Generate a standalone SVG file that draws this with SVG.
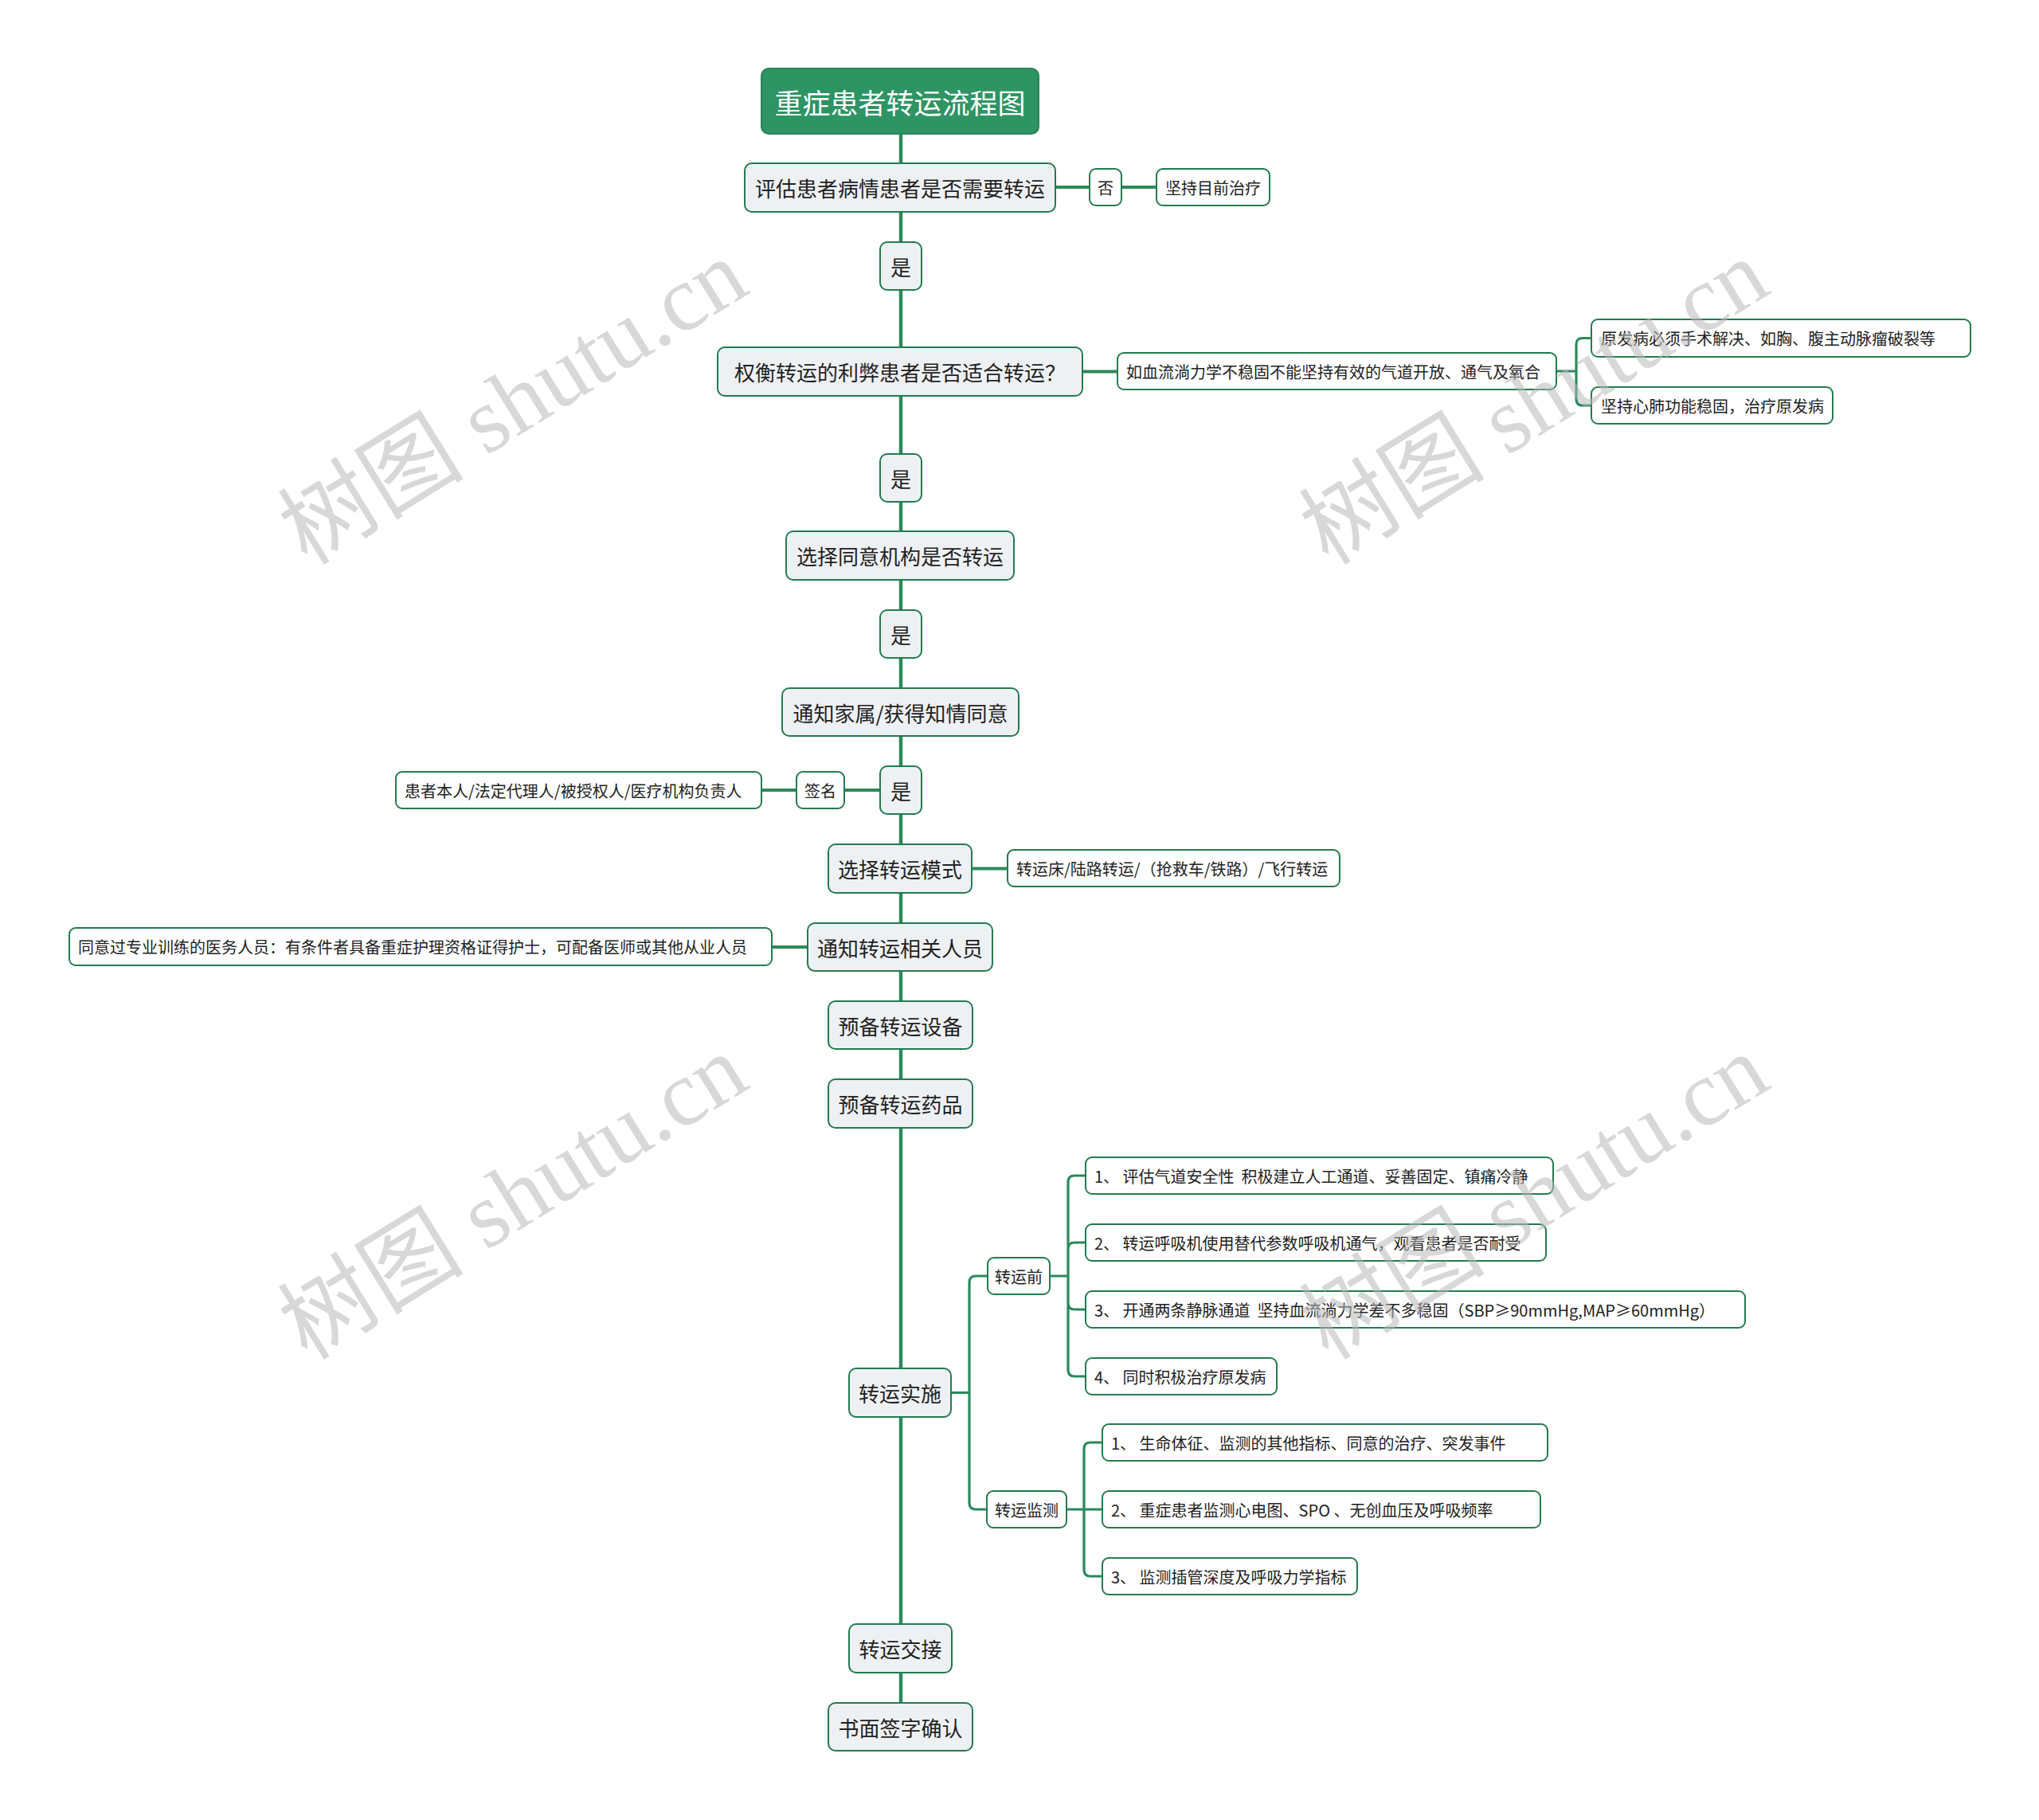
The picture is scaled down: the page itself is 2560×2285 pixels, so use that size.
<svg xmlns="http://www.w3.org/2000/svg" width="2560" height="2285" viewBox="0 0 2560 2285">
<style>
.bg{fill:#ffffff}
.root rect{fill:#2e9463;stroke:#2a8558;stroke-width:2}
.root text{fill:#ffffff;font-size:35px}
.main rect{fill:#eef1f4;stroke:#257a4f;stroke-width:2}
.main text{fill:#222222;font-size:26px}
.sub rect{fill:#ffffff;stroke:#257a4f;stroke-width:2}
.sub text{fill:#222222;font-size:20px}
text{font-family:"Noto Sans CJK SC","Noto Sans",sans-serif;text-anchor:middle;dominant-baseline:central;white-space:pre}
.sub text.l{text-anchor:start}
.conn path{fill:none;stroke:#2b8a5b;stroke-linecap:round;stroke-linejoin:round}
.spine{stroke-width:4.5}
.h{stroke-width:4}
.br{stroke-width:3.2}
.wm{font-family:"Liberation Serif","Noto Sans CJK SC",serif;font-size:117px;fill:#b8b8b8;fill-opacity:0.55;text-anchor:middle;dominant-baseline:alphabetic}
</style>
<rect class="bg" x="0" y="0" width="2560" height="2285"/>
<g id="connectors" class="conn">
<path class="spine" d="M1131,168 V2138"/>
<path class="h" d="M1325,235 H1368 M1408,235 H1452"/>
<path class="h" d="M1359,466.5 H1403"/>
<path class="br" d="M1954,466 H1979 M1979,466 V432.5 Q1979,424.5 1987,424.5 H1998 M1979,466 V501 Q1979,509 1987,509 H1998"/>
<path class="h" d="M1105,992 H1060 M1000,992 H956"/>
<path class="h" d="M1220,1090.5 H1265"/>
<path class="h" d="M1014,1189 H969"/>
<path class="br" d="M1194,1748.5 H1217 M1217,1748.5 V1610 Q1217,1602 1225,1602 H1240 M1217,1748.5 V1887 Q1217,1895 1225,1895 H1239"/>
<path class="br" d="M1318,1602 H1341 M1341,1602 V1484 Q1341,1476 1349,1476 H1363 M1341,1602 V1568 Q1341,1560 1349,1560 H1363 M1341,1602 V1636 Q1341,1644 1349,1644 H1363 M1341,1602 V1720 Q1341,1728 1349,1728 H1363"/>
<path class="br" d="M1339,1895 H1384 M1361,1895 V1819 Q1361,1811 1369,1811 H1384 M1361,1895 V1971 Q1361,1979 1369,1979 H1384"/>
</g>
<g id="n-root" class="root"><rect x="956" y="86" width="348" height="82" rx="9"/><text x="1130" y="127">重症患者转运流程图</text></g>
<g id="n-eval" class="main"><rect x="935" y="205" width="390" height="61" rx="9"/><text x="1130" y="235.5">评估患者病情患者是否需要转运</text></g>
<g id="n-no" class="sub"><rect x="1368" y="212" width="40" height="46" rx="8"/><text x="1388" y="235">否</text></g>
<g id="n-keep" class="sub"><rect x="1452" y="212" width="142" height="46" rx="8"/><text x="1523" y="235">坚持目前治疗</text></g>
<g id="n-yes1" class="main"><rect x="1105" y="304" width="52" height="60" rx="9"/><text x="1131" y="334">是</text></g>
<g id="n-weigh" class="main"><rect x="901" y="436" width="458" height="61" rx="9"/><text x="1130" y="466.5">权衡转运的利弊患者是否适合转运？</text></g>
<g id="n-cond" class="sub"><rect x="1403" y="443" width="551" height="46" rx="8"/><text class="l" x="1414" y="466">如血流淌力学不稳固不能坚持有效的气道开放、通气及氧合</text></g>
<g id="n-p1" class="sub"><rect x="1998" y="401" width="476" height="47" rx="8"/><text class="l" x="2010" y="424.5">原发病必须手术解决、如胸、腹主动脉瘤破裂等</text></g>
<g id="n-p2" class="sub"><rect x="1998" y="486" width="303" height="46" rx="8"/><text class="l" x="2010" y="509">坚持心肺功能稳固，治疗原发病</text></g>
<g id="n-yes2" class="main"><rect x="1105" y="570" width="52" height="60" rx="9"/><text x="1131" y="600">是</text></g>
<g id="n-inst" class="main"><rect x="987" y="667" width="286" height="61" rx="9"/><text x="1130" y="697.5">选择同意机构是否转运</text></g>
<g id="n-yes3" class="main"><rect x="1105" y="766" width="52" height="60" rx="9"/><text x="1131" y="796">是</text></g>
<g id="n-family" class="main"><rect x="982" y="864" width="297" height="60" rx="9"/><text x="1130.5" y="894">通知家属/获得知情同意</text></g>
<g id="n-yes4" class="main"><rect x="1105" y="962" width="52" height="60" rx="9"/><text x="1131" y="992">是</text></g>
<g id="n-sign" class="sub"><rect x="1000" y="969" width="60" height="46" rx="8"/><text x="1030" y="992">签名</text></g>
<g id="n-signer" class="sub"><rect x="497" y="969" width="459" height="46" rx="8"/><text class="l" x="508" y="992">患者本人/法定代理人/被授权人/医疗机构负责人</text></g>
<g id="n-mode" class="main"><rect x="1040" y="1060" width="180" height="61" rx="9"/><text x="1130" y="1090.5">选择转运模式</text></g>
<g id="n-modeopt" class="sub"><rect x="1265" y="1067" width="417" height="46" rx="8"/><text class="l" x="1276" y="1090">转运床/陆路转运/（抢救车/铁路）/飞行转运</text></g>
<g id="n-notify" class="main"><rect x="1014" y="1159" width="232" height="60" rx="9"/><text x="1130" y="1189">通知转运相关人员</text></g>
<g id="n-staff" class="sub"><rect x="87" y="1165" width="882" height="47" rx="8"/><text class="l" x="98" y="1188.5">同意过专业训练的医务人员：有条件者具备重症护理资格证得护士，可配备医师或其他从业人员</text></g>
<g id="n-equip" class="main"><rect x="1040" y="1257" width="181" height="60" rx="9"/><text x="1130.5" y="1287">预备转运设备</text></g>
<g id="n-drug" class="main"><rect x="1040" y="1355" width="181" height="61" rx="9"/><text x="1130.5" y="1385.5">预备转运药品</text></g>
<g id="n-impl" class="main"><rect x="1066" y="1718" width="128" height="61" rx="9"/><text x="1130" y="1748.5">转运实施</text></g>
<g id="n-pre" class="sub"><rect x="1240" y="1579" width="78" height="46" rx="8"/><text x="1279" y="1602">转运前</text></g>
<g id="n-pre1" class="sub"><rect x="1363" y="1453" width="587" height="46" rx="8"/><text class="l" x="1374" y="1476">1、 评估气道安全性  积极建立人工通道、妥善固定、镇痛冷静</text></g>
<g id="n-pre2" class="sub"><rect x="1363" y="1537" width="578" height="46" rx="8"/><text class="l" x="1374" y="1560">2、 转运呼吸机使用替代参数呼吸机通气，观看患者是否耐受</text></g>
<g id="n-pre3" class="sub"><rect x="1363" y="1621" width="828" height="46" rx="8"/><text class="l" x="1374" y="1644">3、 开通两条静脉通道  坚持血流淌力学差不多稳固（SBP≥90mmHg,MAP≥60mmHg）</text></g>
<g id="n-pre4" class="sub"><rect x="1363" y="1705" width="240" height="46" rx="8"/><text class="l" x="1374" y="1728">4、 同时积极治疗原发病</text></g>
<g id="n-mon" class="sub"><rect x="1239" y="1872" width="100" height="46" rx="8"/><text x="1289" y="1895">转运监测</text></g>
<g id="n-m1" class="sub"><rect x="1384" y="1788" width="559" height="46" rx="8"/><text class="l" x="1395" y="1811">1、 生命体征、监测的其他指标、同意的治疗、突发事件</text></g>
<g id="n-m2" class="sub"><rect x="1384" y="1872" width="550" height="46" rx="8"/><text class="l" x="1395" y="1895">2、 重症患者监测心电图、SPO 、无创血压及呼吸频率</text></g>
<g id="n-m3" class="sub"><rect x="1384" y="1956" width="320" height="46" rx="8"/><text class="l" x="1395" y="1979">3、 监测插管深度及呼吸力学指标</text></g>
<g id="n-handover" class="main"><rect x="1066" y="2039" width="129" height="61" rx="9"/><text x="1130.5" y="2069.5">转运交接</text></g>
<g id="n-confirm" class="main"><rect x="1040" y="2138" width="181" height="60" rx="9"/><text x="1130.5" y="2168">书面签字确认</text></g>
<g id="watermarks">
<text class="wm" transform="translate(646,508) rotate(-31.7)" x="0" y="36">树图 shutu.cn</text>
<text class="wm" transform="translate(1928,508) rotate(-31.7)" x="0" y="36">树图 shutu.cn</text>
<text class="wm" transform="translate(646,1506) rotate(-31.7)" x="0" y="36">树图 shutu.cn</text>
<text class="wm" transform="translate(1928,1506) rotate(-31.7)" x="0" y="36">树图 shutu.cn</text>
</g>
</svg>
